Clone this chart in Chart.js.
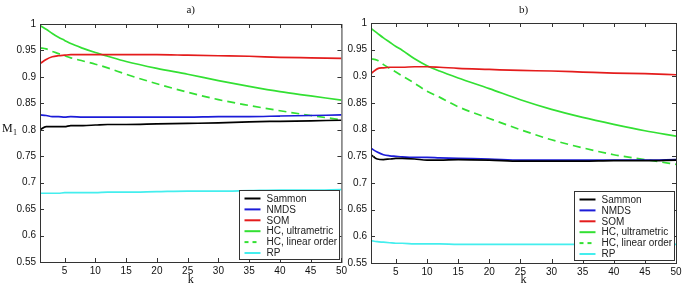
<!DOCTYPE html>
<html>
<head>
<meta charset="utf-8">
<script src="https://cdn.jsdelivr.net/npm/chart.js@4.4.1/dist/chart.umd.min.js"></script>
<style>
  html, body { margin: 0; padding: 0; background: #fff; }
  #wrap { position: relative; width: 685px; height: 285px; overflow: hidden; }
  canvas { position: absolute; top: 0; }
</style>
</head>
<body>
<div id="wrap">
  <canvas id="chartA" width="350" height="285" style="left:0"></canvas>
  <canvas id="chartB" width="345" height="285" style="left:340px"></canvas>
</div>
<script>
// valores de k
const kValues = [1, 2, 3, 4, 5, 6, 8, 10, 12, 15, 20, 25, 30, 35, 40, 45, 50];
const xTicks = [5, 10, 15, 20, 25, 30, 35, 40, 45, 50];
const yTicks = [0.55, 0.6, 0.65, 0.7, 0.75, 0.8, 0.85, 0.9, 0.95, 1];
const seriesNames = ['Sammon', 'NMDS', 'SOM', 'HC, ultrametric', 'HC, linear order', 'RP'];
const seriesColors = ['#000000', '#1c1cd8', '#e41c1c', '#33e033', '#33e033', '#44eeee'];

// painel a)
const sammonA = [0.800, 0.806, 0.806, 0.806, 0.806, 0.808, 0.808, 0.809, 0.810, 0.810, 0.811, 0.812, 0.813, 0.815, 0.816, 0.817, 0.818];
const nmdsA   = [0.828, 0.827, 0.825, 0.825, 0.824, 0.825, 0.824, 0.824, 0.824, 0.824, 0.824, 0.824, 0.825, 0.825, 0.826, 0.827, 0.828];
const somA    = [0.925, 0.933, 0.938, 0.940, 0.941, 0.942, 0.942, 0.942, 0.942, 0.942, 0.942, 0.941, 0.940, 0.939, 0.937, 0.936, 0.935];
const hcUltA  = [0.997, 0.990, 0.982, 0.975, 0.969, 0.963, 0.954, 0.946, 0.939, 0.929, 0.916, 0.905, 0.893, 0.882, 0.872, 0.864, 0.856];
const hcLinA  = [0.955, 0.953, 0.948, 0.944, 0.940, 0.936, 0.930, 0.924, 0.917, 0.905, 0.887, 0.871, 0.857, 0.846, 0.836, 0.827, 0.819];
const rpA     = [0.680, 0.680, 0.680, 0.680, 0.681, 0.681, 0.681, 0.681, 0.682, 0.682, 0.683, 0.684, 0.684, 0.685, 0.686, 0.686, 0.687];

// painel b)
const sammonB = [0.753, 0.745, 0.744, 0.745, 0.746, 0.746, 0.745, 0.743, 0.743, 0.744, 0.743, 0.741, 0.741, 0.741, 0.742, 0.742, 0.743];
const nmdsB   = [0.765, 0.758, 0.753, 0.751, 0.750, 0.749, 0.748, 0.748, 0.747, 0.746, 0.745, 0.743, 0.743, 0.743, 0.743, 0.743, 0.744];
const somB    = [0.905, 0.914, 0.916, 0.917, 0.917, 0.917, 0.918, 0.918, 0.917, 0.915, 0.913, 0.911, 0.910, 0.908, 0.906, 0.905, 0.903];
const hcUltB  = [0.990, 0.981, 0.972, 0.964, 0.956, 0.949, 0.933, 0.920, 0.910, 0.897, 0.877, 0.856, 0.838, 0.823, 0.810, 0.798, 0.788];
const hcLinB  = [0.933, 0.930, 0.922, 0.915, 0.908, 0.901, 0.887, 0.872, 0.861, 0.843, 0.821, 0.800, 0.781, 0.766, 0.753, 0.744, 0.735];
const rpB     = [0.592, 0.590, 0.589, 0.588, 0.587, 0.587, 0.586, 0.586, 0.586, 0.585, 0.585, 0.585, 0.585, 0.585, 0.585, 0.585, 0.585];

const sansFont = '"Liberation Sans", Arial, sans-serif';
const serifFont = '"Liberation Serif", "Times New Roman", serif';

function buildDatasets(series) {
    return series.map((vals, i) => ({
        label: seriesNames[i],
        data: vals.map((v, j) => ({ x: kValues[j], y: v })),
        borderColor: seriesColors[i],
        backgroundColor: seriesColors[i],
        borderWidth: 1.7,
        borderDash: i === 4 ? [8, 5] : [],
        pointRadius: 0,
        cubicInterpolationMode: 'monotone',
        fill: false
    }));
}

// caixa estilo MATLAB, ticks para dentro, textos e legenda
const boxPlugin = {
    id: 'matlabBox',
    afterDatasetsDraw(chart, args, opts) {
        const { ctx, chartArea: a, scales } = chart;
        ctx.save();
        ctx.strokeStyle = '#333';
        ctx.lineWidth = 1;
        ctx.strokeRect(a.left + 0.5, a.top + 0.5, a.right - a.left, a.bottom - a.top);
        ctx.beginPath();
        xTicks.forEach(v => {
            const x = Math.round(scales.x.getPixelForValue(v)) + 0.5;
            ctx.moveTo(x, a.bottom); ctx.lineTo(x, a.bottom - 4);
            ctx.moveTo(x, a.top); ctx.lineTo(x, a.top + 4);
        });
        yTicks.forEach(v => {
            const y = Math.round(scales.y.getPixelForValue(v)) + 0.5;
            ctx.moveTo(a.left, y); ctx.lineTo(a.left + 4, y);
            ctx.moveTo(a.right, y); ctx.lineTo(a.right - 4, y);
        });
        ctx.stroke();

        // legenda
        const w = 100, h = 69;
        const x0 = Math.round(a.right - 2 - w) + 0.5;
        const y0 = Math.round(a.bottom - 3 - h) + 0.5;
        ctx.fillStyle = '#fff';
        ctx.fillRect(x0, y0, w, h);
        ctx.strokeStyle = '#333';
        ctx.strokeRect(x0, y0, w, h);
        ctx.font = '10px ' + sansFont;
        ctx.textBaseline = 'middle';
        ctx.textAlign = 'left';
        chart.data.datasets.forEach((ds, i) => {
            const y = y0 + 8 + i * 10.9;
            ctx.strokeStyle = ds.borderColor;
            ctx.lineWidth = 2;
            ctx.setLineDash(ds.borderDash.length ? [4, 4] : []);
            ctx.beginPath();
            ctx.moveTo(x0 + 5, y); ctx.lineTo(x0 + 21, y);
            ctx.stroke();
            ctx.setLineDash([]);
            ctx.fillStyle = '#222';
            ctx.fillText(ds.label, x0 + 27, y + 0.5);
        });

        // textos
        const cx = (a.left + a.right) / 2;
        ctx.fillStyle = '#111';
        ctx.textAlign = 'center';
        ctx.font = '11px ' + serifFont;
        ctx.fillText(opts.panel, cx, 10);
        ctx.font = '12px ' + serifFont;
        ctx.fillText('k', cx, 280);
        if (opts.yLabel) {
            ctx.textAlign = 'left';
            ctx.font = '12px ' + serifFont;
            ctx.fillText('M', 2, 129);
            ctx.font = '8px ' + serifFont;
            ctx.fillText('1', 13, 133);
        }
        ctx.restore();
    }
};

function makeChart(id, panel, series, area) {
    const canvas = document.getElementById(id);
    return new Chart(canvas, {
        type: 'line',
        data: { datasets: buildDatasets(series) },
        plugins: [boxPlugin],
        options: {
            responsive: false,
            animation: false,
            devicePixelRatio: 1,
            layout: { padding: { top: area.top, right: canvas.width - area.right, bottom: 0, left: 0 } },
            plugins: {
                legend: { display: false },
                tooltip: { enabled: false },
                matlabBox: { panel: panel, yLabel: area.yLabel }
            },
            scales: {
                x: {
                    type: 'linear',
                    min: 1, max: 50,
                    afterBuildTicks: s => { s.ticks = xTicks.map(v => ({ value: v })); },
                    afterFit: s => { s.height = 285 - area.bottom; },
                    grid: { display: false, drawTicks: false },
                    border: { display: false },
                    ticks: { padding: 3, maxRotation: 0, color: '#111', font: { family: sansFont, size: 10 } }
                },
                y: {
                    min: 0.55, max: 1,
                    afterBuildTicks: s => { s.ticks = yTicks.map(v => ({ value: v })); },
                    afterFit: s => { s.width = area.left; },
                    grid: { display: false, drawTicks: false },
                    border: { display: false },
                    ticks: {
                        padding: 4, color: '#111', font: { family: sansFont, size: 10 },
                        callback: v => String(+v.toFixed(2))
                    }
                }
            }
        }
    });
}

makeChart('chartA', 'a)', [sammonA, nmdsA, somA, hcUltA, hcLinA, rpA],
    { left: 40, right: 344, top: 24, bottom: 262, yLabel: true });
makeChart('chartB', 'b)', [sammonB, nmdsB, somB, hcUltB, hcLinB, rpB],
    { left: 31, right: 336, top: 23, bottom: 263, yLabel: false });
</script>
</body>
</html>
